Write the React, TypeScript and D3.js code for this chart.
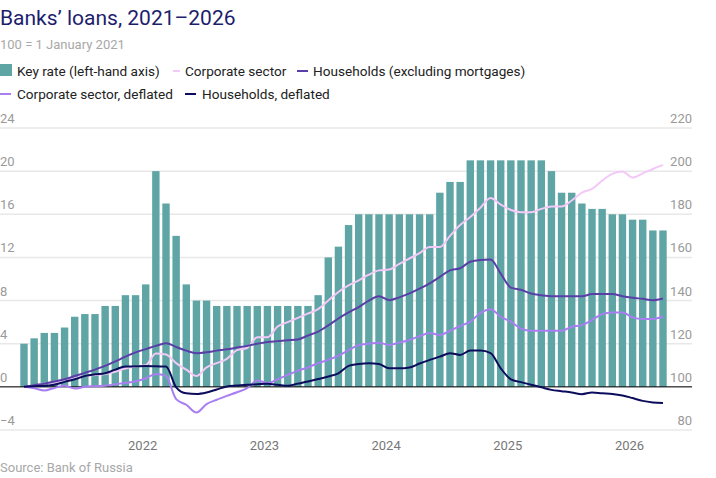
import { useMemo } from 'react';
import * as d3 from 'd3';

const keyRate = [
  4, 4.5, 5, 5, 5.5, 6.5, 6.75, 6.75, 7.5, 7.5, 8.5, 8.5, 9.5, 20, 17, 14, 9.5, 8, 8,
  7.5, 7.5, 7.5, 7.5, 7.5, 7.5, 7.5, 7.5, 7.5, 7.5, 8.5, 12, 13, 15,
  16, 16, 16, 16, 16, 16, 16, 16, 18, 19, 19,
  21, 21, 21, 21, 21, 21, 21, 21, 20, 18, 18, 17, 16.5, 16.5, 16, 16, 15.5, 15.5, 14.5, 14.5,
];

const corporate = [
  100, 100.5, 101.5, 102, 103, 104, 105, 105.5, 106, 107, 108.5, 109.5, 110, 115.5, 115, 111,
  108, 105, 109, 111, 113, 117, 118, 123, 123, 128, 130, 132, 134, 136, 140, 144,
  147, 149.4, 152, 154, 154.4, 157, 159.5, 162, 164.8, 164.8, 170, 175, 178.7, 183, 187.6, 184.5,
  182, 181, 181, 182.5, 183.6, 183.6, 186.4, 190, 191.8, 195.6, 198.7, 199.8, 197, 199, 201, 202.9,
];

const households = [
  100, 100.8, 101.5, 102.5, 103.5, 105, 106.5, 108, 109.7, 111.8, 114, 116, 117.5, 119, 120.2, 118.5,
  116.8, 115.6, 116, 116.8, 117.4, 118.2, 119, 120, 120.8, 121.2, 121.6, 122, 123.8, 125.6, 128.5, 131.7,
  134.5, 137, 140, 142, 140.2, 141.5, 143.3, 145.5, 148, 151, 154, 155, 158, 158.8, 159, 152.5,
  146, 145, 143.3, 142.5, 142, 142, 142, 142, 143, 143, 143, 142, 141.3, 140.8, 140.2, 141,
];

const corporateDeflated = [
  100, 99.3, 98.3, 99.5, 100.5, 99.2, 100, 100.3, 100.5, 101.2, 101.8, 102.5, 104, 106, 105, 94.3,
  91.7, 88.1, 92, 94, 95.8, 97.5, 99.4, 103, 101.7, 103.5, 105.5, 107.5, 109, 111, 112.5, 114.5,
  117, 119.4, 120, 120.5, 119.4, 120.5, 121.7, 123.5, 125, 124, 126, 128.2, 130.2, 134.3, 136, 132.5,
  130.2, 127, 126, 126, 126, 126, 127.9, 128.6, 131, 133.7, 134.5, 134.5, 132.2, 131.4, 131.5, 132.5,
];

const householdsDeflated = [
  100, 100.3, 100.5, 101, 102.3, 103.5, 105, 105.8, 106.3, 108, 109.4, 109.5, 109.7, 109.5, 109.4, 99.8,
  97, 96.7, 97.4, 98.8, 100.2, 100.6, 101, 101.2, 101.4, 101, 100.5, 101.5, 102.5, 103.6, 104.8, 106.3,
  109.7, 110.6, 111, 110.6, 108.6, 108.6, 109, 110.8, 112.5, 114, 115.6, 114.8, 116.8, 116.8, 115.6, 108.6,
  103.5, 102.2, 101, 99.8, 98.6, 98, 97.4, 96.6, 97.4, 97, 96.7, 96, 94.8, 93.5, 92.8, 92.5,
];

const leftTicks = [-4, 0, 4, 8, 12, 16, 20, 24];
const rightTicks = [80, 100, 120, 140, 160, 180, 200, 220];
const years = [2022, 2023, 2024, 2025, 2026];

const FONT = 'Roboto, "Liberation Sans", sans-serif';
const C = {
  bar: '#5fa5a5',
  corp: '#f3c9f7',
  hh: '#5a3ea8',
  corpDef: '#a87ef2',
  hhDef: '#0c0c5c',
  grid: '#e8e8e8',
  tick: '#9a9a9a',
};

export default function App() {
  const W = 716, H = 478;
  const x0 = 24, x1 = 663;
  const yTop = 128, yBot = 430;

  const x = d3.scaleLinear().domain([0, keyRate.length - 1]).range([x0, x1]);
  const yL = d3.scaleLinear().domain([-4, 24]).range([yBot, yTop]);
  const yR = d3.scaleLinear().domain([80, 220]).range([yBot, yTop]);
  const barW = 7.4;

  const line = useMemo(
    () => d3.line<number>().x((_, i) => x(i)).y((d) => yR(d)).curve(d3.curveMonotoneX),
    []
  );

  const series = [
    { data: corporate, color: C.corp },
    { data: households, color: C.hh },
    { data: corporateDeflated, color: C.corpDef },
    { data: householdsDeflated, color: C.hhDef },
  ];

  return (
    <svg width={W} height={H} style={{ position: 'absolute', left: 0, top: 0, fontFamily: FONT }}>
      <rect width={W} height={H} fill="#fff" />
      <text x={0} y={25} fontSize={21} fill="#1d1d6e">Banks’ loans, 2021–2026</text>
      <text x={0} y={49} fontSize={13} fill="#a8a8a8">100 = 1 January 2021</text>

      <g fontSize={13.6} fill="#222">
        <rect x={0} y={64} width={12} height={12} fill={C.bar} />
        <text x={17} y={76}>Key rate (left-hand axis)</text>
        <line x1={173} x2={180} y1={71} y2={71} stroke={C.corp} strokeWidth={2} />
        <text x={185} y={76}>Corporate sector</text>
        <line x1={297} x2={308} y1={71} y2={71} stroke={C.hh} strokeWidth={2} />
        <text x={313} y={76}>Households (excluding mortgages)</text>
        <line x1={0} x2={11} y1={94} y2={94} stroke={C.corpDef} strokeWidth={2} />
        <text x={17} y={99}>Corporate sector, deflated</text>
        <line x1={185} x2={196} y1={94} y2={94} stroke={C.hhDef} strokeWidth={2} />
        <text x={202} y={99}>Households, deflated</text>
      </g>

      {leftTicks.map((t) => (
        <g key={t}>
          <line x1={0} x2={692} y1={yL(t)} y2={yL(t)} stroke={C.grid} strokeWidth={1.5} />
          <text x={0} y={yL(t) - 5} fontSize={13} fill={C.tick}>{t < 0 ? `−${-t}` : t}</text>
        </g>
      ))}
      {rightTicks.map((t) => (
        <text key={t} x={692} y={yR(t) - 5} fontSize={13} fill={C.tick} textAnchor="end">{t}</text>
      ))}

      {keyRate.map((v, i) => (
        <rect key={i} x={x(i) - barW / 2} y={yL(v)} width={barW} height={yL(0) - yL(v)} fill={C.bar} />
      ))}

      <line x1={0} x2={692} y1={yL(0)} y2={yL(0)} stroke="#000" strokeWidth={1} />

      {series.map((s, i) => (
        <path key={i} d={line(s.data) || ''} fill="none" stroke={s.color} strokeWidth={2} strokeLinejoin="round" />
      ))}

      {years.map((yr) => (
        <text key={yr} x={x((yr - 2021) * 12 - 0.3)} y={450} fontSize={13} fill="#777" textAnchor="middle">{yr}</text>
      ))}

      <text x={0} y={472} fontSize={13} fill="#a8a8a8">Source: Bank of Russia</text>
    </svg>
  );
}
